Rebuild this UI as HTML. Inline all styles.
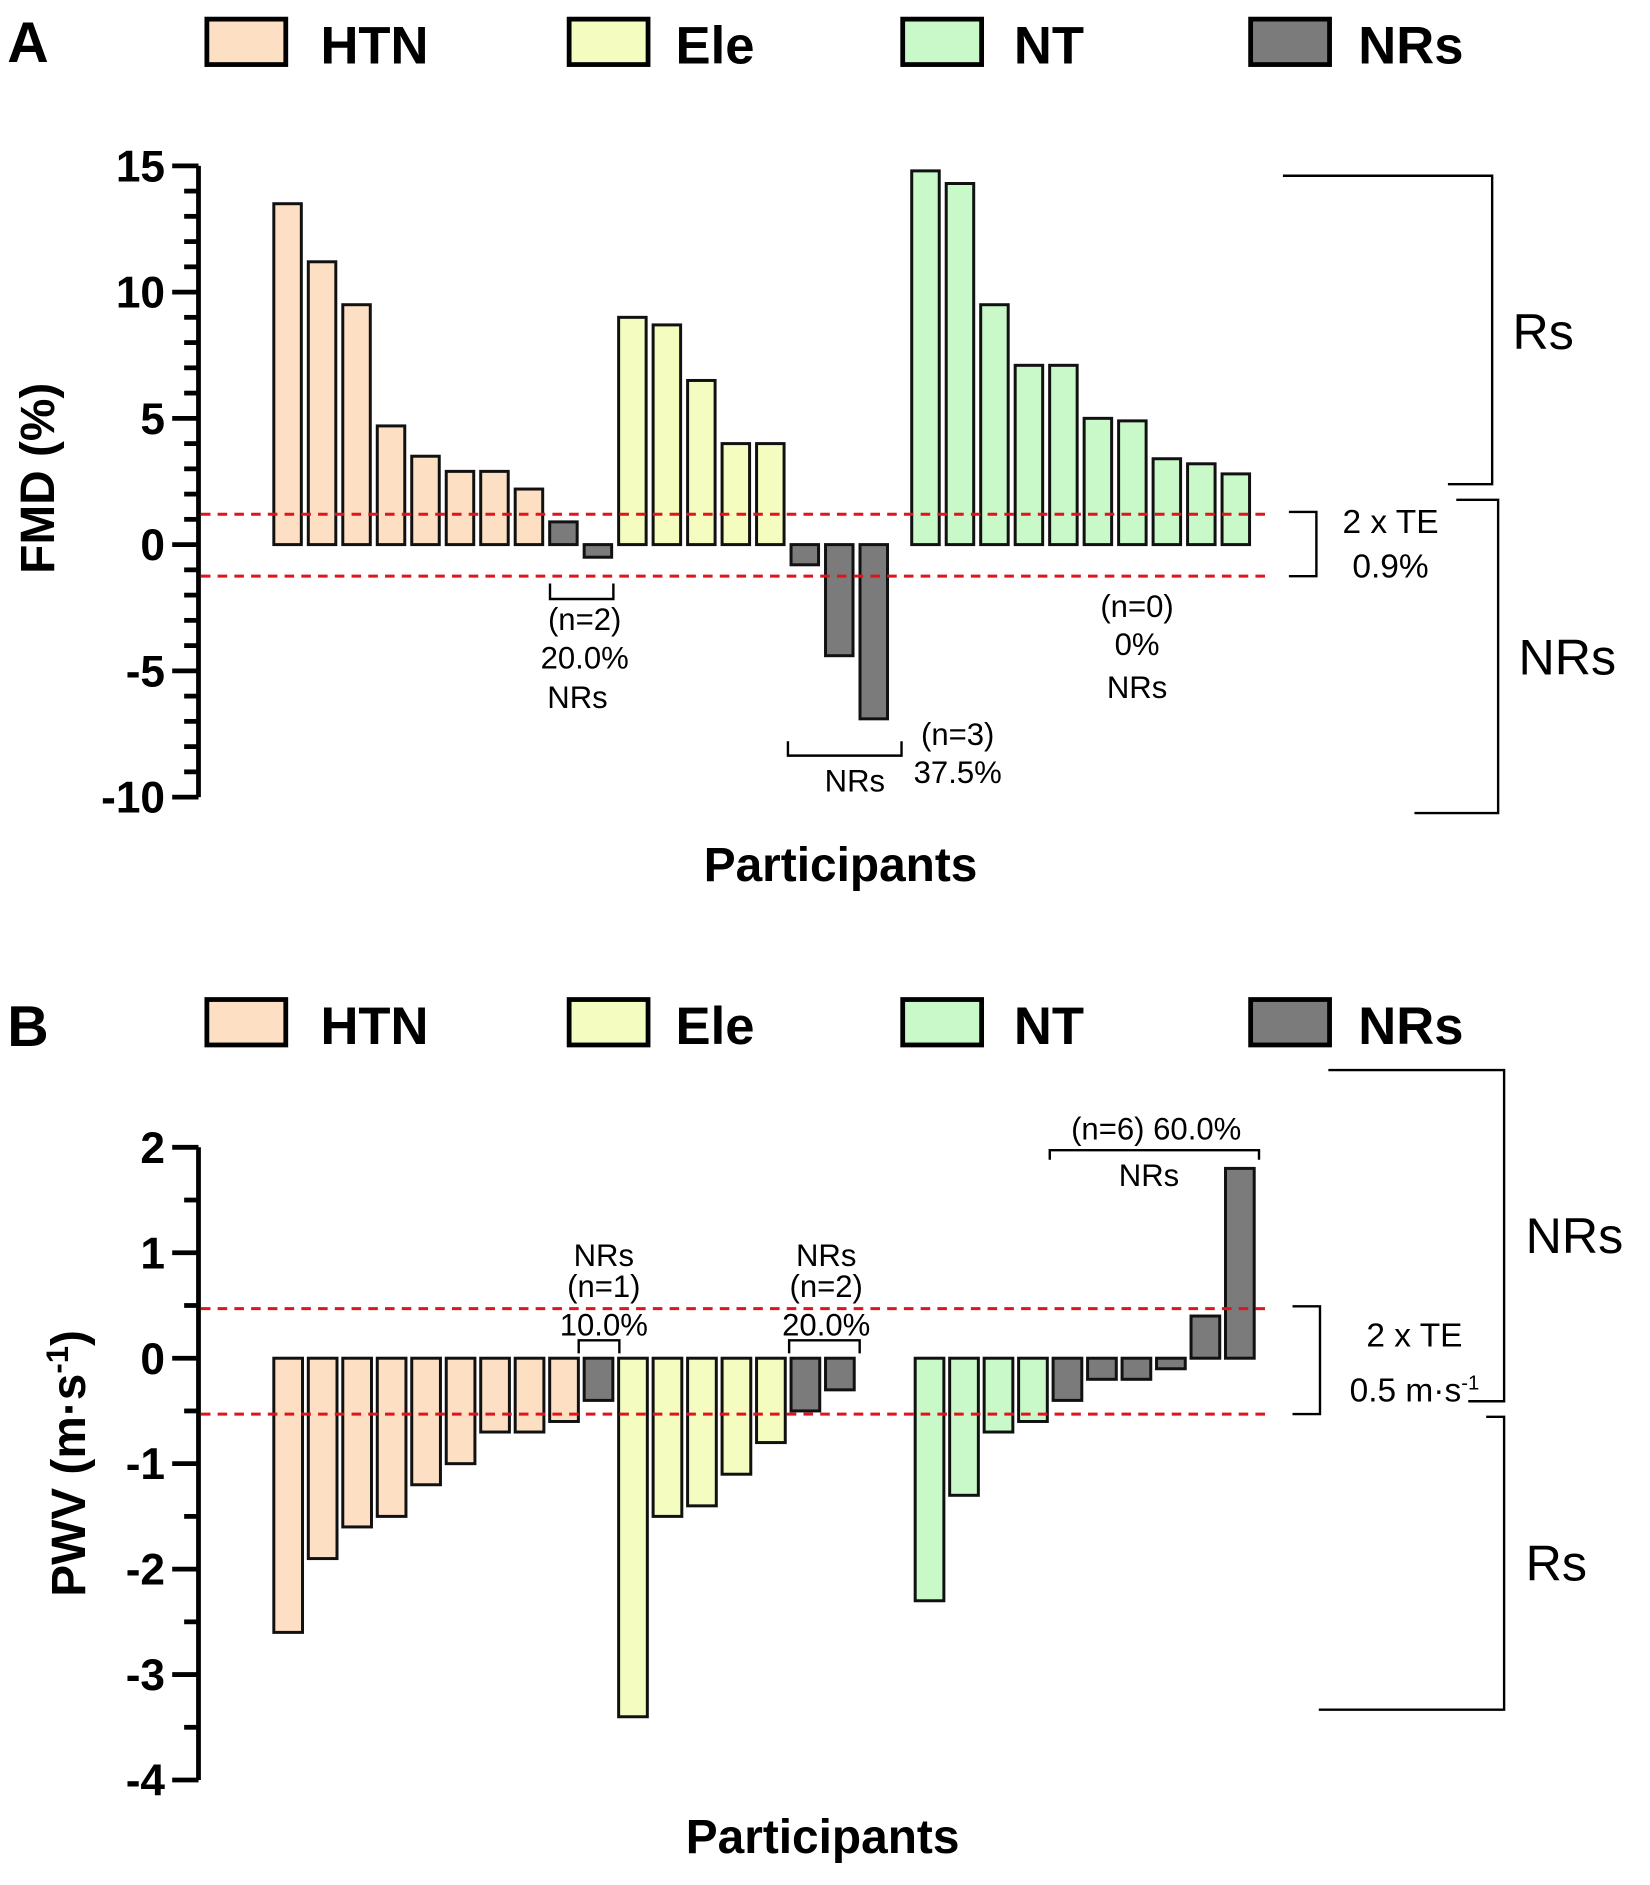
<!DOCTYPE html>
<html><head><meta charset="utf-8"><style>
html,body{margin:0;padding:0;background:#fff}
svg{display:block}
text{font-family:"Liberation Sans",sans-serif}
.b{font-weight:bold}
</style></head><body>
<svg id="fig" width="1650" height="1885" viewBox="0 0 1380 1576.6" xmlns="http://www.w3.org/2000/svg">
<g id="gA" transform="translate(3,2)"></g>
<g id="gB" transform="translate(3,2)"></g>
</svg>
<script>
// Panel A data (FMD %)
const aGroups = ['HTN','HTN','HTN','HTN','HTN','HTN','HTN','HTN','NR','NR','Ele','Ele','Ele','Ele','Ele','NR','NR','NR','NT','NT','NT','NT','NT','NT','NT','NT','NT','NT'];
const aValues = [13.5,11.2,9.5,4.7,3.5,2.9,2.9,2.2,0.9,-0.5,9.0,8.7,6.5,4.0,4.0,-0.8,-4.4,-6.9,14.8,14.3,9.5,7.1,7.1,5.0,4.9,3.4,3.2,2.8];
const aTicks = [15,10,5,0,-5,-10];
const aTE = [1.2,-1.25];
// Panel B data (PWV m/s)
const bGroups = ['HTN','HTN','HTN','HTN','HTN','HTN','HTN','HTN','HTN','NR','Ele','Ele','Ele','Ele','Ele','NR','NR','NT','NT','NT','NT','NR','NR','NR','NR','NR','NR'];
const bValues = [-2.6,-1.9,-1.6,-1.5,-1.2,-1.0,-0.7,-0.7,-0.6,-0.4,-3.4,-1.5,-1.4,-1.1,-0.8,-0.5,-0.3,-2.3,-1.3,-0.7,-0.6,-0.4,-0.2,-0.2,-0.1,0.4,1.8];
const bTicks = [2,1,0,-1,-2,-3,-4];
const bTE = [0.47,-0.53];

const colors={HTN:'#fde0c4',Ele:'#f4fcc0',NT:'#c9f9c9',NR:'#7b7b7b'};
const NS='http://www.w3.org/2000/svg';
function mk(parent,tag,attrs,txt){const e=document.createElementNS(NS,tag);for(const k in attrs)e.setAttribute(k,attrs[k]);if(txt!==undefined)e.textContent=txt;parent.appendChild(e);return e;}
function line(p,x1,y1,x2,y2,w){return mk(p,'line',{x1,y1,x2,y2,stroke:'#000','stroke-width':w||2});}
function poly(p,pts,w){return mk(p,'polyline',{points:pts,fill:'none',stroke:'#000','stroke-width':w||2});}

function legend(g,y){
  const items=[['HTN',170,265],['Ele',473,562],['NT',752,845],['NR',1043,1133]];
  const names=['HTN','Ele','NT','NRs'];
  items.forEach((it,i)=>{
    const r=mk(g,'rect',{x:it[1],y:y,width:66,height:38,fill:colors[it[0]],stroke:'#000','stroke-width':4});
    
    
    const t=mk(g,'text',{x:it[2],y:y+37,'font-size':44,class:'b'},names[i]);
    
    
  });
}

function panel(g,groups,values,ticks,te,cfg){
  const y=v=>cfg.y0-v*cfg.pu;
  const xs=i=>cfg.x0+(i+(i>=cfg.gapAt?cfg.gap:0))*cfg.slot;
  const ax=line(g,cfg.axX,y(ticks[0]),cfg.axX,y(ticks[ticks.length-1]),4);
  
  
  const tmax=ticks[0],tmin=ticks[ticks.length-1];
  for(let v=tmin;v<=tmax+1e-9;v+=cfg.minor){
    const major=ticks.some(t=>Math.abs(t-v)<1e-6);
    line(g,cfg.axX-(major?22:12),y(v),cfg.axX,y(v),4);
  }
  ticks.forEach(t=>{
    const tl=mk(g,'text',{x:cfg.axX-28,y:y(t)+13,'font-size':37,class:'b','text-anchor':'end'},String(t));
    
    
  });
  values.forEach((v,i)=>{
    const x=xs(i),top=Math.min(y(v),y(0)),h=Math.abs(y(v)-y(0));
    const r=mk(g,'rect',{x:x,y:top,width:cfg.bw,height:Math.max(h,1),fill:colors[groups[i]],stroke:'#111','stroke-width':2.5});
    
    
  });
  te.forEach(v=>{
    const l=mk(g,'line',{x1:cfg.axX+2,y1:y(v),x2:cfg.teEnd,y2:y(v),stroke:'#e0141c','stroke-width':2.5,'stroke-dasharray':'8,6'});
    
    
  });
  poly(g,`${cfg.teB},${y(te[0])-2} ${cfg.teB+23},${y(te[0])-2} ${cfg.teB+23},${y(te[1])} ${cfg.teB},${y(te[1])}`,2);
  return y;
}

const gA=document.getElementById('gA');
mk(gA,'text',{x:3,y:50,'font-size':48,class:'b'},'A');
legend(gA,14);
const yA=panel(gA,aGroups,aValues,aTicks,aTE,{y0:453.5,pu:21.12,axX:163,x0:226,slot:28.84,bw:23,gapAt:18,gap:0.5,minor:1,teEnd:1060,teB:1075});
const tA=mk(gA,'text',{x:0,y:0,'font-size':40,class:'b','text-anchor':'middle',transform:'translate(42,398) rotate(-90)'},'FMD (%)');


const xA=mk(gA,'text',{x:700,y:735,'font-size':40,class:'b','text-anchor':'middle'},'Participants');


poly(gA,'1070,145 1245,145 1245,403 1208,403',2);
poly(gA,'1215,416 1250,416 1250,678 1180,678',2);
mk(gA,'text',{x:1262,y:290,'font-size':42},'Rs');
mk(gA,'text',{x:1267,y:562,'font-size':42},'NRs');
mk(gA,'text',{x:1160,y:444,'font-size':28,'text-anchor':'middle'},'2 x TE');
mk(gA,'text',{x:1160,y:481,'font-size':28,'text-anchor':'middle'},'0.9%');
poly(gA,'457,486 457,499 510,499 510,486',2);
mk(gA,'text',{x:486,y:525,'font-size':26,'text-anchor':'middle'},'(n=2)');
mk(gA,'text',{x:486,y:557,'font-size':26,'text-anchor':'middle'},'20.0%');
mk(gA,'text',{x:480,y:590,'font-size':26,'text-anchor':'middle'},'NRs');
poly(gA,'656,618 656,630 751,630 751,618',2);
mk(gA,'text',{x:712,y:660,'font-size':26,'text-anchor':'middle'},'NRs');
mk(gA,'text',{x:798,y:621,'font-size':26,'text-anchor':'middle'},'(n=3)');
mk(gA,'text',{x:798,y:653,'font-size':26,'text-anchor':'middle'},'37.5%');
mk(gA,'text',{x:948,y:514,'font-size':26,'text-anchor':'middle'},'(n=0)');
mk(gA,'text',{x:948,y:546,'font-size':26,'text-anchor':'middle'},'0%');
mk(gA,'text',{x:948,y:582,'font-size':26,'text-anchor':'middle'},'NRs');

const gB=document.getElementById('gB');
mk(gB,'text',{x:3,y:873,'font-size':48,class:'b'},'B');
legend(gB,834);
const yB=panel(gB,bGroups,bValues,bTicks,bTE,{y0:1134,pu:88.2,axX:163,x0:226,slot:28.84,bw:24,gapAt:17,gap:1.6,minor:0.5,teEnd:1060,teB:1078});
const tB=mk(gB,'text',{x:0,y:0,'font-size':40,class:'b','text-anchor':'middle',transform:'translate(68,1222) rotate(-90)'});


tB.innerHTML='PWV (m·s<tspan dy="-14" font-size="26">-1</tspan><tspan dy="14">)</tspan>';
const xB=mk(gB,'text',{x:685,y:1548,'font-size':40,class:'b','text-anchor':'middle'},'Participants');


poly(gB,'1108,893 1255,893 1255,1170 1225,1170',2);
poly(gB,'1240,1183 1255,1183 1255,1428 1100,1428',2);
mk(gB,'text',{x:1273,y:1046,'font-size':42},'NRs');
mk(gB,'text',{x:1273,y:1320,'font-size':42},'Rs');
mk(gB,'text',{x:1180,y:1124,'font-size':28,'text-anchor':'middle'},'2 x TE');
const te=mk(gB,'text',{x:1180,y:1170,'font-size':28,'text-anchor':'middle'});
te.innerHTML='0.5 m·s<tspan dy="-10" font-size="17">-1</tspan>';
mk(gB,'text',{x:502,y:1057,'font-size':26,'text-anchor':'middle'},'NRs');
mk(gB,'text',{x:502,y:1083,'font-size':26,'text-anchor':'middle'},'(n=1)');
mk(gB,'text',{x:502,y:1115,'font-size':26,'text-anchor':'middle'},'10.0%');
poly(gB,'481,1130 481,1119 515,1119 515,1130',2);
mk(gB,'text',{x:688,y:1057,'font-size':26,'text-anchor':'middle'},'NRs');
mk(gB,'text',{x:688,y:1083,'font-size':26,'text-anchor':'middle'},'(n=2)');
mk(gB,'text',{x:688,y:1115,'font-size':26,'text-anchor':'middle'},'20.0%');
poly(gB,'657,1130 657,1119 716,1119 716,1130',2);
mk(gB,'text',{x:964,y:951,'font-size':26,'text-anchor':'middle'},'(n=6) 60.0%');
poly(gB,'875,968 875,960 1050,960 1050,968',2);
mk(gB,'text',{x:958,y:990,'font-size':26,'text-anchor':'middle'},'NRs');
</script>
</body></html>
